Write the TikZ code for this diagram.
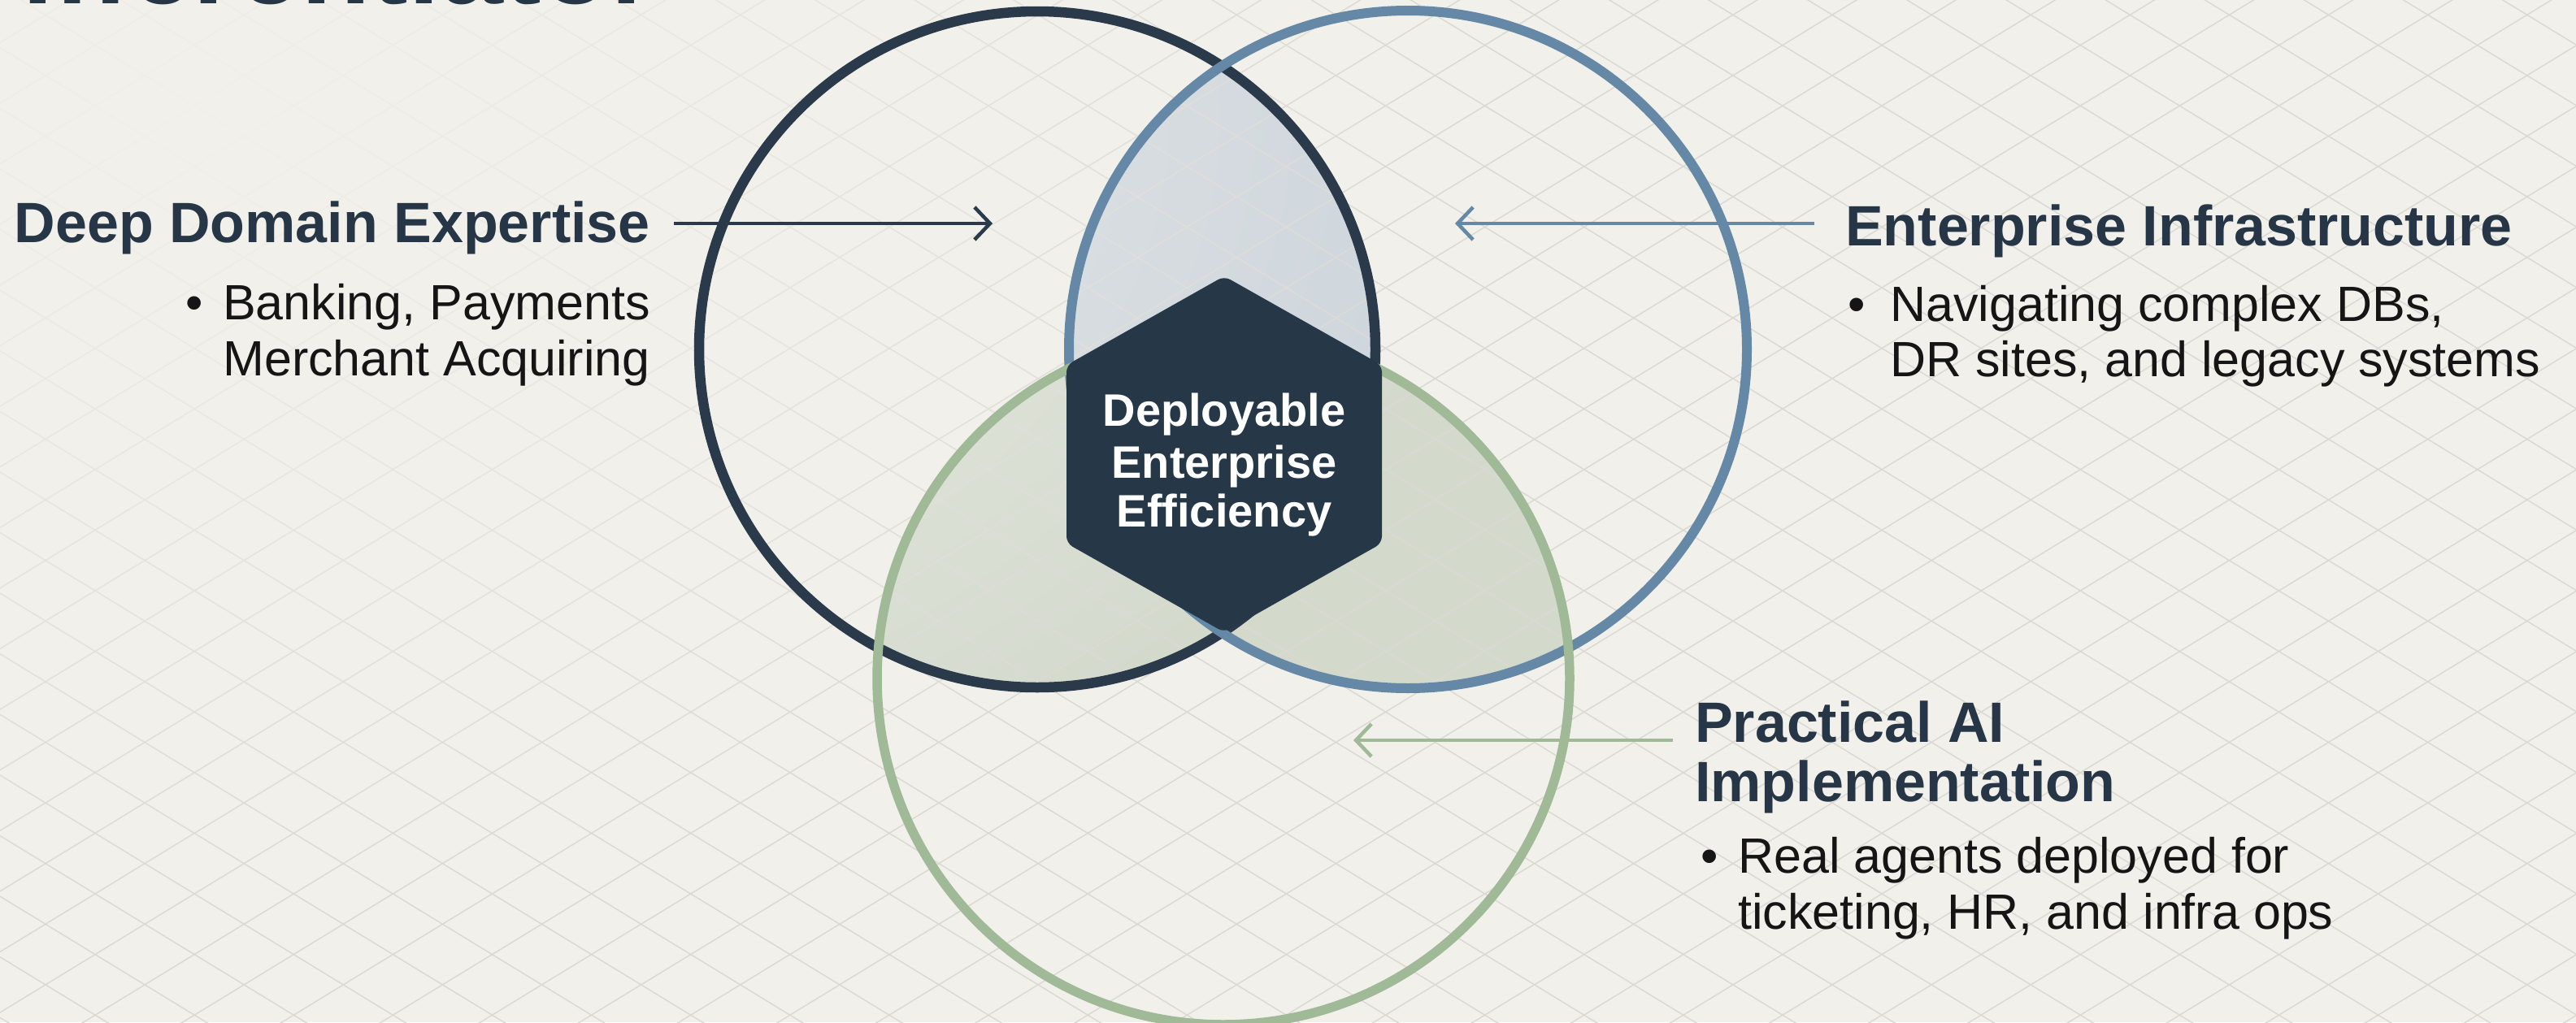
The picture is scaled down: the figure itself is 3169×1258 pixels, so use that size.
\documentclass[tikz,border=0pt]{standalone}
\usepackage{fontspec}
\setmainfont{Liberation Sans}
\usetikzlibrary{arrows.meta,fadings}
\definecolor{bg}{HTML}{F1F0EB}
\definecolor{gridc}{HTML}{DAD9D4}
\definecolor{navy}{HTML}{263748}
\definecolor{darkc}{HTML}{2A3A4A}
\definecolor{bluec}{HTML}{6588A6}
\definecolor{greenc}{HTML}{A0B996}
\definecolor{lensblue}{HTML}{CDD5DC}
\definecolor{lensgreen}{HTML}{D3DACC}
\definecolor{headc}{HTML}{263646}
\definecolor{bodyc}{HTML}{151515}
\tikzfading[name=cornerfade, inner color=transparent!0, outer color=transparent!100]
\begin{document}
\begin{tikzpicture}[x=1pt,y=-1pt,
  heading/.style={font=\fontsize{70pt}{80pt}\selectfont\bfseries, text=headc, inner sep=0pt},
  body/.style={font=\fontsize{61pt}{70pt}\selectfont, text=bodyc, inner sep=0pt},
  coretext/.style={font=\fontsize{56pt}{62pt}\selectfont\bfseries, text=white, inner sep=0pt},
  gridline/.style={draw=gridc, line width=1.5pt},
  ring/.style={circle, inner sep=0pt, draw, fill=none},
  pointer/.style={line width=4.5pt, -{Straight Barb[length=19pt, width=40pt]}},
]
\useasboundingbox (0,0) rectangle (3169,1258);
\clip (0,0) rectangle (3169,1258);
\fill[bg] (0,0) rectangle (3169,1258);

% overlap fills
\begin{scope}
  \clip (1276,430) circle (416pt);
  \fill[lensblue] (1732,430) circle (417pt);
\end{scope}
\begin{scope}
  \clip (1505,835) circle (426pt);
  \fill[lensgreen] (1276,430) circle (416pt);
  \fill[lensgreen] (1732,430) circle (417pt);
\end{scope}

% background grid
\foreach \k in {-35,...,9}
  \draw[gridline] (0,{655.5+74.6*\k}) -- (3169,{655.5+74.6*\k+1936});
\foreach \k in {-11,...,33}
  \draw[gridline] (0,{798.5+74.6*\k}) -- (3169,{798.5+74.6*\k-1936});
\fill[bg, path fading=cornerfade] (250,150) ellipse (1600pt and 1000pt);

% circles
\node[ring, draw=darkc, line width=12.5pt, minimum size=832pt] (cdom) at (1276,430) {};
\node[ring, draw=bluec, line width=12pt, minimum size=834pt] (cinf) at (1732,430) {};
\node[ring, draw=greenc, line width=11.5pt, minimum size=852pt] (cai) at (1505,835) {};

% arrows
\coordinate (a1s) at (829,275);  \coordinate (a1e) at (1221,275);
\coordinate (a2s) at (2232,275); \coordinate (a2e) at (1790,275);
\coordinate (a3s) at (2058,911); \coordinate (a3e) at (1665,911);
\draw[pointer, darkc] (a1s) -- (a1e);
\draw[pointer, bluec] (a2s) -- (a2e);
\draw[pointer, greenc] (a3s) -- (a3e);

% central hexagon
\draw[fill=navy, draw=navy, line width=2pt, rounded corners=8pt]
  (1506,341) -- (1699,450) -- (1699,668) -- (1506,777) -- (1313,668) -- (1313,450) -- cycle;
\node[coretext, anchor=base] (core1) at (1506,524) {Deployable};
\node[coretext, anchor=base] (core2) at (1506,588) {Enterprise};
\node[coretext, anchor=base] (core3) at (1506,648) {Efficiency};

% title fragment
\node[font=\fontsize{140pt}{150pt}\selectfont\bfseries, text=headc, inner sep=0pt, anchor=base east] (title) at (806,5) {Differentiator};

% left block
\node[heading, anchor=base east] (domh) at (800,298) {Deep Domain Expertise};
\node[body, anchor=base] (domb) at (239,393) {\textbullet};
\node[body, anchor=base east] (dom1) at (800,393) {Banking, Payments};
\node[body, anchor=base east] (dom2) at (800,462) {Merchant Acquiring};

% right block
\node[heading, anchor=base west] (infh) at (2270,302) {Enterprise Infrastructure};
\node[body, anchor=base] (infb) at (2284,395) {\textbullet};
\node[body, anchor=base west] (inf1) at (2325,395) {Navigating complex DBs,};
\node[body, anchor=base west] (inf2) at (2325,463) {DR sites, and legacy systems};

% bottom right block
\node[heading, anchor=base west] (aih1) at (2085,913) {Practical AI};
\node[heading, anchor=base west] (aih2) at (2085,986) {Implementation};
\node[body, anchor=base] (aib) at (2103,1074) {\textbullet};
\node[body, anchor=base west] (ai1) at (2138,1074) {Real agents deployed for};
\node[body, anchor=base west] (ai2) at (2138,1143) {ticketing, HR, and infra ops};
\end{tikzpicture}
\end{document}
